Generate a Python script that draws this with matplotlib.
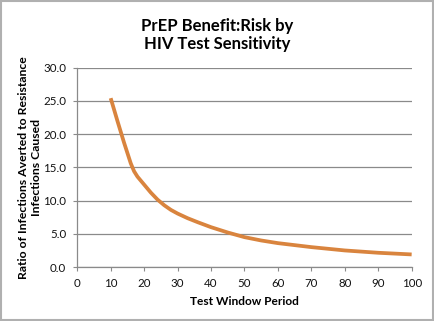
import matplotlib
matplotlib.use("Agg")
import matplotlib.pyplot as plt
from matplotlib.patches import Rectangle

window = [10, 12, 14, 16, 17, 18, 20, 22, 24, 26, 28, 30, 33, 36, 40, 45, 50, 55, 60, 70, 80, 90, 100]
ratio = [25.4, 22.0, 18.7, 15.6, 14.4, 13.6, 12.4, 11.2, 10.15, 9.3, 8.6, 8.05, 7.35, 6.75, 6.0, 5.2, 4.5, 4.0, 3.6, 3.0, 2.5, 2.15, 1.9]
xticks = [0, 10, 20, 30, 40, 50, 60, 70, 80, 90, 100]
yticks = [0.0, 5.0, 10.0, 15.0, 20.0, 25.0, 30.0]

plt.rcParams['font.family'] = ['Lato', 'DejaVu Sans']

fig = plt.figure(figsize=(4.34, 3.21), dpi=100)
fig.patch.set_facecolor('white')
fig.patches.append(Rectangle((0.002, 0.003), 0.995, 0.994, transform=fig.transFigure,
                             fill=False, edgecolor='#b0b0b0', linewidth=1.5))

ax = fig.add_axes([0.178, 0.168, 0.7705, 0.6215])
ax.plot(window, ratio, color='#D9843E', linewidth=2.7, solid_capstyle='butt', zorder=3)

ax.set_xlim(0, 100)
ax.set_ylim(0, 30)
ax.set_xticks(xticks)
ax.set_xticklabels([str(t) for t in xticks])
ax.set_yticks(yticks)
ax.set_yticklabels([f"{t:.1f}" for t in yticks])
ax.grid(axis='y', color='#8a8a8a', linewidth=0.9)
ax.set_axisbelow(True)
for s in ['top', 'right']:
    ax.spines[s].set_visible(False)
for s in ['left', 'bottom']:
    ax.spines[s].set_color('#8a8a8a')
    ax.spines[s].set_linewidth(0.9)
ax.tick_params(axis='both', direction='out', length=3, width=0.8, color='#8a8a8a',
               labelsize=8.3, labelcolor='#111111', pad=5)

ax.set_xlabel('Test Window Period', fontsize=8.6, fontweight='bold', labelpad=5)
ax.set_ylabel('Ratio of Infections Averted to Resistance\nInfections Caused', fontsize=8.8,
              fontweight='bold', labelpad=1, linespacing=1.15)

fig.text(0.5, 0.837, 'PrEP Benefit:Risk by\nHIV Test Sensitivity', ha='center', va='bottom',
         fontsize=12, fontweight='bold', linespacing=1.2)

fig.savefig('out.png', dpi=100)
